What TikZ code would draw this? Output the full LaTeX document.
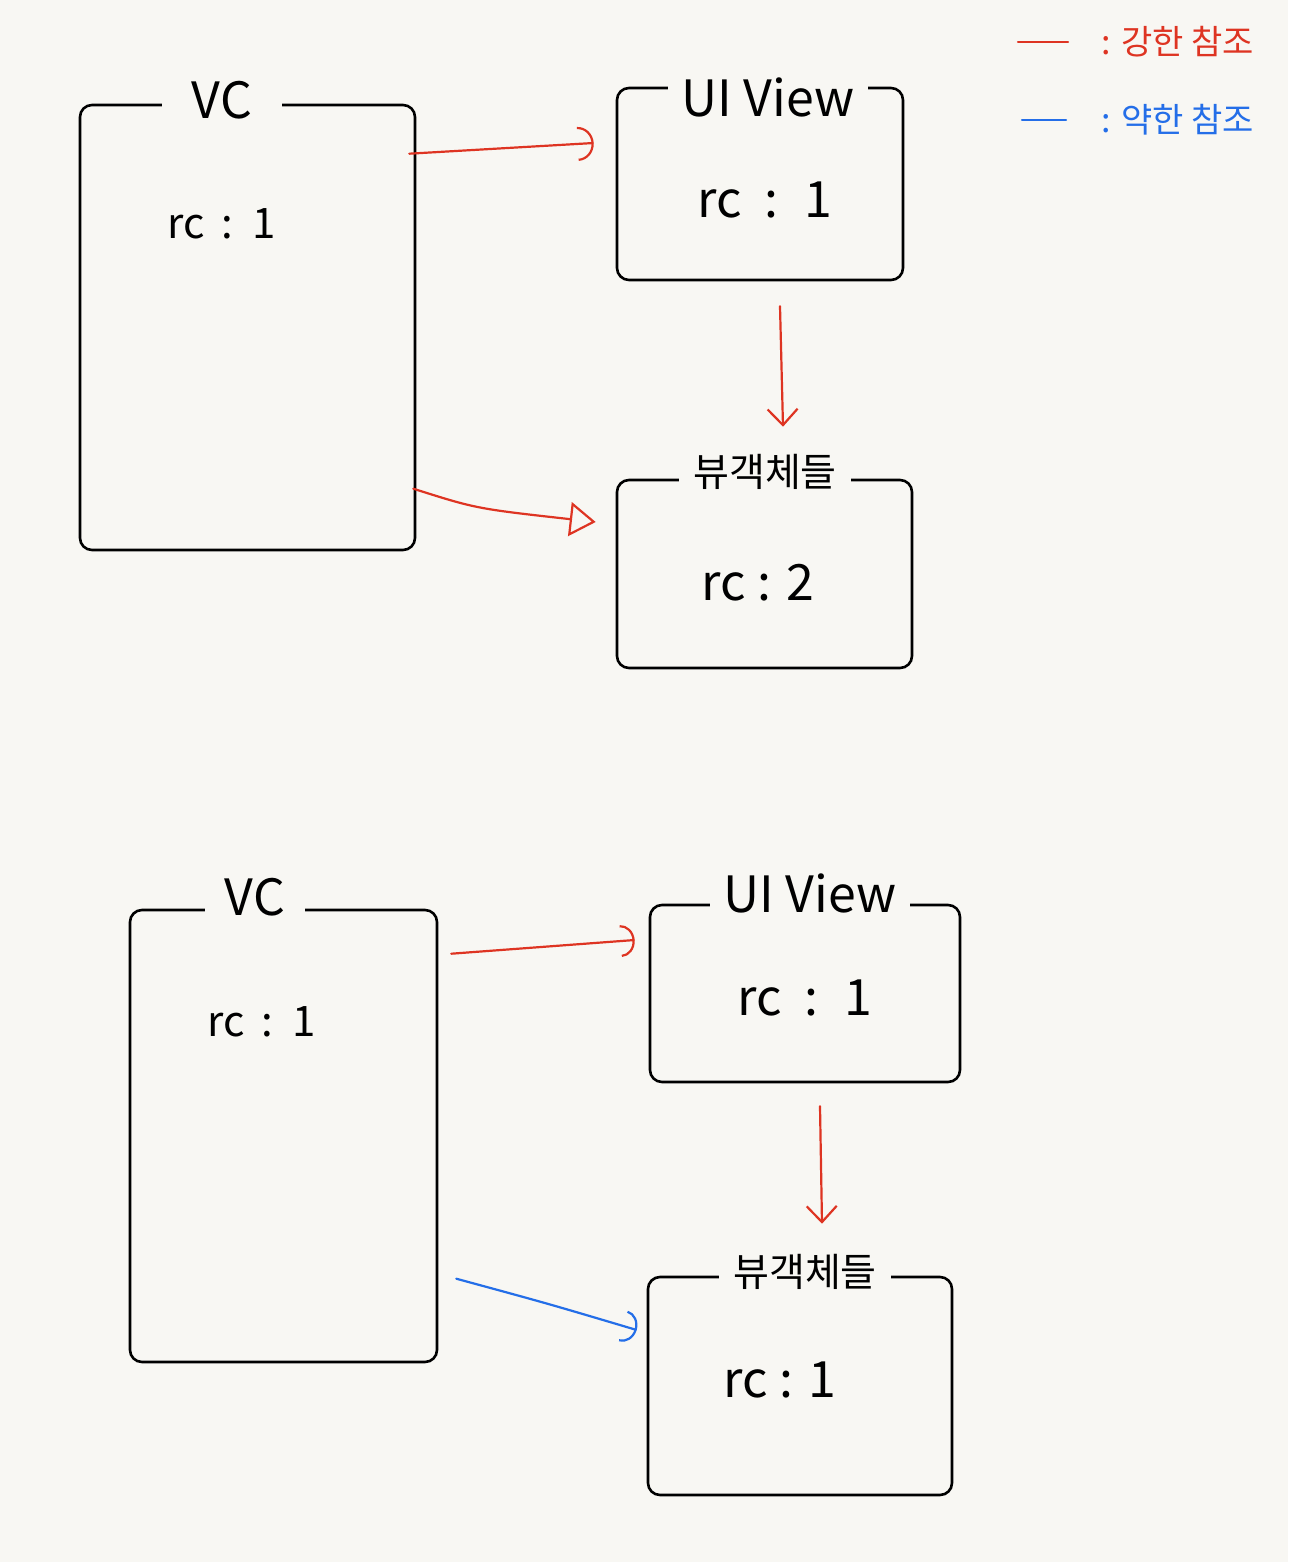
\documentclass[tikz,border=0pt]{standalone}
\usepackage{fontspec}
\setmainfont{Noto Sans CJK KR}
\usetikzlibrary{arrows.meta,calc}
\definecolor{paper}{RGB}{248,247,243}
\definecolor{penred}{RGB}{222,52,34}
\definecolor{penblue}{RGB}{36,110,232}
\tikzset{
  box/.style={draw=black, line width=2.6pt, rounded corners=12pt, inner sep=0pt},
  title/.style={fill=paper, inner xsep=14pt, inner ysep=2pt, font=\fontsize{50}{54}\selectfont},
  ktitle/.style={fill=paper, inner xsep=14pt, inner ysep=2pt, font=\fontsize{39}{43}\selectfont},
  count/.style={font=\fontsize{50}{54}\selectfont},
  strong/.style={draw=penred, line width=2.2pt, line cap=round},
  weak/.style={draw=penblue, line width=2.2pt, line cap=round},
  legend/.style={font=\fontsize{34}{38}\selectfont, anchor=west},
}
\begin{document}
\begin{tikzpicture}[x=1pt,y=-1pt]
\useasboundingbox[fill=paper] (0,0) rectangle (1288,1562);

% ---- top scene ----
\node[box, minimum width=335pt, minimum height=445pt] (vc1) at (247.5,327.5) {};
\node[title, inner xsep=30pt] (vc1t) at (222,100) {VC};
\node[count, font=\fontsize{42}{46}\selectfont] (vc1c) at (222,224) {rc \,:\, 1};

\node[box, minimum width=286pt, minimum height=192pt] (uiv1) at (760,184) {};
\node[title] (uiv1t) at (768,97) {UI View};
\node[count] (uiv1c) at (765,200) {rc \ : \ 1};

\node[box, minimum width=295pt, minimum height=188pt] (obj1) at (764.5,574) {};
\node[ktitle] (obj1t) at (765,472) {뷰객체들};
\node[count] (obj1c) at (758,583) {rc : 2};

\draw[strong, -{Arc Barb[length=16pt, width=34pt, line width=2.2pt]}]
  ($(vc1.north east)+(-7,50)$) -- ($(uiv1.west)+(-22,-41)$);
\draw[strong, -{Triangle[open, length=26pt, width=34pt, line width=2.2pt]}]
  ($(vc1.north east)+(-3,385)$) .. controls ($(vc1.north east)+(60,405)$) .. ($(obj1.west)+(-20,-52)$);
\draw[strong, -{Straight Barb[length=16pt, width=30pt, line width=2.2pt]}]
  ($(uiv1.south)+(20,25)$) -- ($(obj1.north)+(18.5,-52)$);

% ---- bottom scene ----
\node[box, minimum width=307pt, minimum height=452pt] (vc2) at (283.5,1136) {};
\node[title, inner xsep=20pt] (vc2t) at (255,897) {VC};
\node[count, font=\fontsize{42}{46}\selectfont] (vc2c) at (262,1022) {rc \,:\, 1};

\node[box, minimum width=310pt, minimum height=177pt] (uiv2) at (805,993.5) {};
\node[title] (uiv2t) at (810,893) {UI View};
\node[count] (uiv2c) at (805,998) {rc \ : \ 1};

\node[box, minimum width=304pt, minimum height=218pt] (obj2) at (800,1386) {};
\node[ktitle] (obj2t) at (805,1272) {뷰객체들};
\node[count] (obj2c) at (780,1380) {rc : 1};

\draw[strong, -{Arc Barb[length=14pt, width=32pt, line width=2.2pt]}]
  ($(vc2.north east)+(13,45)$) -- ($(uiv2.west)+(-14,-53.5)$);
\draw[weak, -{Arc Barb[length=14pt, width=32pt, line width=2.2pt]}]
  ($(vc2.north east)+(18,370)$) .. controls ($(vc2.north east)+(110,395)$) .. ($(obj2.west)+(-10,-56)$);
\draw[strong, -{Straight Barb[length=16pt, width=30pt, line width=2.2pt]}]
  ($(uiv2.south)+(15,23)$) -- ($(obj2.north)+(22,-52)$);

% ---- legend ----
\coordinate (ls1) at (1018,42);
\coordinate (le1) at (1068,42);
\draw[strong] (ls1) -- (le1);
\node[legend, text=penred] (lt1) at (1098,42) {: 강한 참조};
\coordinate (ls2) at (1022,120);
\coordinate (le2) at (1066,120);
\draw[weak] (ls2) -- (le2);
\node[legend, text=penblue] (lt2) at (1098,120) {: 약한 참조};
\end{tikzpicture}
\end{document}
